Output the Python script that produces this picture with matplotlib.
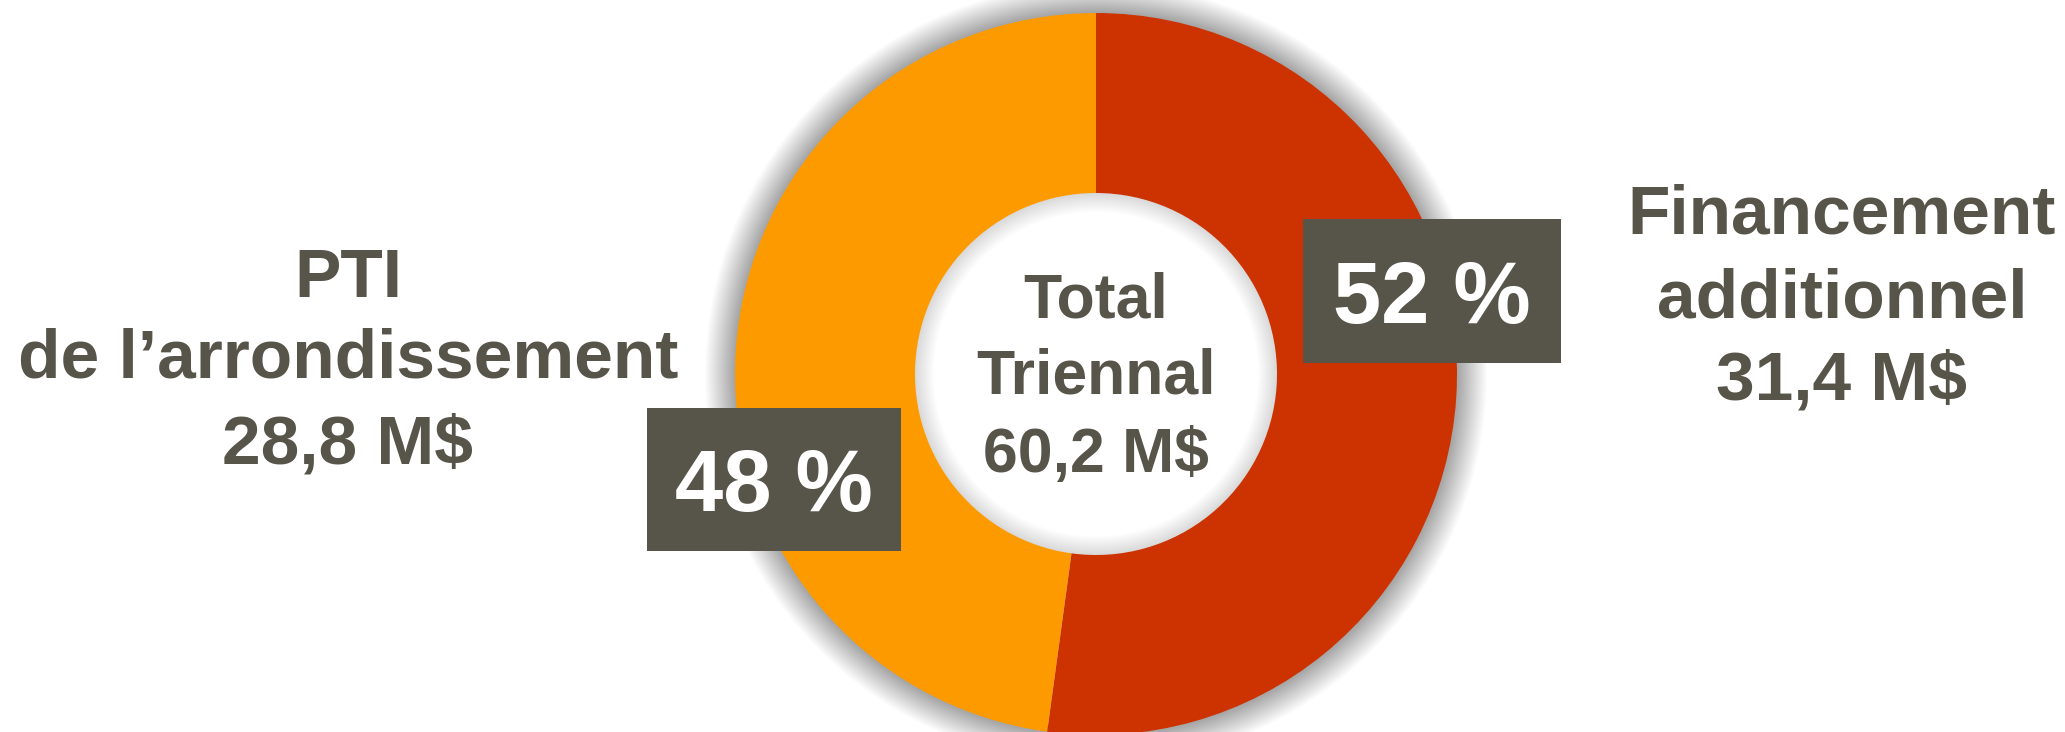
import matplotlib.pyplot as plt
from matplotlib.patches import Wedge, Rectangle

# data
categories = ["PTI\nde l\u2019arrondissement", "Financement\nadditionnel"]
values = [28.8, 31.4]          # M$
colors = ["#FD9A00", "#CC3300"]
center_title = ["Total", "Triennal"]

total = sum(values)
pct = [round(v / total * 100) for v in values]

def fmt(v):
    return f"{v:.1f}".replace(".", ",") + " M$"

W, H = 2065, 732
txt_col = "#57544A"
plt.rcParams['font.family'] = ['Liberation Sans', 'DejaVu Sans']

fig = plt.figure(figsize=(W / 100, H / 100), dpi=100)
ax = fig.add_axes([0, 0, 1, 1])

cx, cy = 1096, H - 374
R, r_in = 361, 181

# soft shadow around the ring
N = 30
for k in range(1, N + 1):
    ax.add_patch(Wedge((cx, cy), R + k, 0, 360, width=k + 6,
                       color="black", alpha=0.0105, lw=0, zorder=1))
for k in range(1, 20):
    ax.add_patch(Wedge((cx, cy), r_in + 6, 0, 360, width=k + 6,
                       color="black", alpha=0.009, lw=0, zorder=1))

wedges, _ = ax.pie(values, colors=colors, startangle=90, counterclock=True,
                   radius=R, center=(cx, cy),
                   wedgeprops=dict(width=R - r_in, edgecolor="none"))
for w in wedges:
    w.set_zorder(2)

ax.set_xlim(0, W)
ax.set_ylim(0, H)
ax.set_aspect("auto")
ax.axis("off")

# side labels (one line per text so baselines can be placed)
left_lines = categories[0].split("\n") + [fmt(values[0])]
right_lines = categories[1].split("\n") + [fmt(values[1])]
for line, yb in zip(left_lines, [297, 378, 463]):
    ax.text(348, H - yb, line, ha="center", va="baseline", fontsize=50,
            fontweight="bold", color=txt_col, zorder=5)
for line, yb in zip(right_lines, [233, 317, 400]):
    ax.text(1842, H - yb, line, ha="center", va="baseline", fontsize=50,
            fontweight="bold", color=txt_col, zorder=5)

# centre text
for line, yb in zip(center_title + [fmt(total)], [317, 393, 472]):
    ax.text(cx, H - yb, line, ha="center", va="baseline", fontsize=45,
            fontweight="bold", color=txt_col, zorder=5)

# percentage boxes
boxes = [(647, 408, 901, 551, 511), (1303, 219, 1561, 363, 323)]
for (x0, y0, x1, y1, yb), p in zip(boxes, pct):
    ax.add_patch(Rectangle((x0, H - y1), x1 - x0, y1 - y0,
                           facecolor=txt_col, edgecolor="none", zorder=4))
    ax.text((x0 + x1) / 2, H - yb, f"{p} %", ha="center", va="baseline",
            fontsize=62.5, fontweight="bold", color="white", zorder=5)

fig.savefig("out.png", dpi=100, facecolor="white")
